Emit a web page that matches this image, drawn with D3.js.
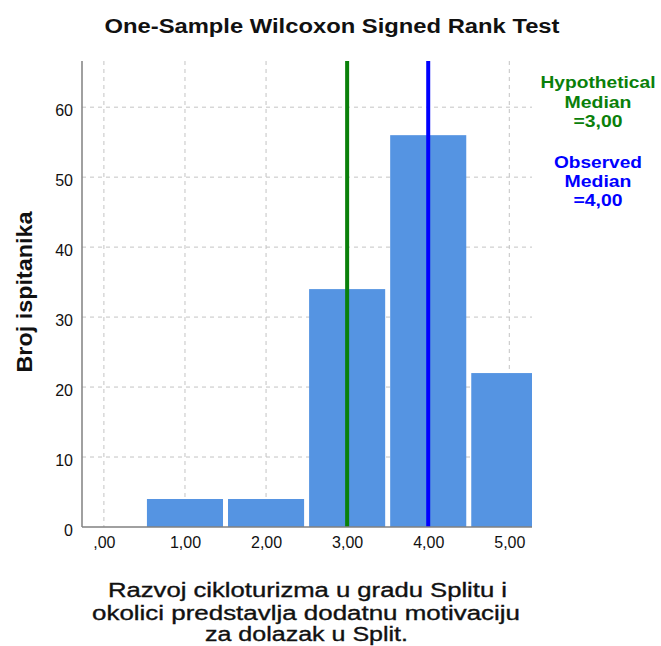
<!DOCTYPE html>
<html><head><meta charset="utf-8">
<script src="https://cdn.jsdelivr.net/npm/d3@7"></script>
<style>
body{margin:0;background:#fff;}
text{font-family:"Liberation Sans",Arial,sans-serif;}
</style></head>
<body>
<svg id="chart" width="661" height="646"></svg>
<script>
const categories = [0, 1, 2, 3, 4, 5];
const tickLabels = [",00", "1,00", "2,00", "3,00", "4,00", "5,00"];
const counts = [0, 4, 4, 34, 56, 22];
const yTicks = [0, 10, 20, 30, 40, 50, 60];
const hypotheticalMedian = 3;
const observedMedian = 4;
const title = "One-Sample Wilcoxon Signed Rank Test";
const yTitle = "Broj ispitanika";
const xTitleLines = ["Razvoj cikloturizma u gradu Splitu i", "okolici predstavlja dodatnu motivaciju", "za dolazak u Split."];
const hypLines = ["Hypothetical", "Median", "=3,00"];
const obsLines = ["Observed", "Median", "=4,00"];

const svg = d3.select("#chart");
const L = 82, R = 532, T = 61, B = 527;
const x = d3.scaleLinear().domain([-0.27, 5.28]).range([L, R]);
const y = d3.scaleLinear().domain([0, 66.6]).range([B, T]);

svg.append("defs").append("clipPath").attr("id", "plotclip")
  .append("rect").attr("x", L).attr("y", T).attr("width", R - L).attr("height", B - T);

// grid
const grid = svg.append("g");
grid.selectAll("line.v").data(categories).join("line")
  .attr("x1", d => x(d)).attr("x2", d => x(d)).attr("y1", T).attr("y2", B)
  .attr("stroke", "#c4c4c4").attr("stroke-width", 1).attr("stroke-dasharray", "4,4");
grid.selectAll("line.h").data(yTicks.filter(d => d > 0)).join("line")
  .attr("x1", L).attr("x2", R).attr("y1", d => y(d)).attr("y2", d => y(d))
  .attr("stroke", "#c4c4c4").attr("stroke-width", 1).attr("stroke-dasharray", "4,4");

// bars
svg.append("g").attr("clip-path", "url(#plotclip)")
  .selectAll("rect").data(categories.map((c, i) => ({c, v: counts[i]})).filter(d => d.v > 0)).join("rect")
  .attr("x", d => x(d.c - 0.5) + 2.5)
  .attr("width", d => x(d.c + 0.5) - x(d.c - 0.5) - 5)
  .attr("y", d => y(d.v))
  .attr("height", d => y(0) - y(d.v))
  .attr("fill", "#5594e2");

// median lines
svg.append("line").attr("x1", x(hypotheticalMedian)).attr("x2", x(hypotheticalMedian))
  .attr("y1", T).attr("y2", B).attr("stroke", "#0a800a").attr("stroke-width", 4);
svg.append("line").attr("x1", x(observedMedian)).attr("x2", x(observedMedian))
  .attr("y1", T).attr("y2", B).attr("stroke", "#0000ff").attr("stroke-width", 4);

// axes
const yAxis = svg.append("g").attr("transform", `translate(${L},0)`)
  .call(d3.axisLeft(y).tickValues(yTicks).tickFormat(d3.format("d")).tickSize(0).tickPadding(9));
yAxis.attr("font-size", 16).attr("font-family", "'Liberation Sans',Arial,sans-serif");
yAxis.select(".domain").remove();
yAxis.selectAll("text").attr("fill", "#111").attr("dy", "0.52em");

const xAxis = svg.append("g").attr("transform", `translate(0,${B})`)
  .call(d3.axisBottom(x).tickValues(categories).tickFormat((d, i) => tickLabels[i]).tickSize(0).tickPadding(10));
xAxis.attr("font-size", 16).attr("font-family", "'Liberation Sans',Arial,sans-serif");
xAxis.select(".domain").remove();
xAxis.selectAll("text").attr("fill", "#111");

svg.append("line").attr("x1", L).attr("x2", L).attr("y1", T).attr("y2", B)
  .attr("stroke", "#808080").attr("stroke-width", 1.5);
svg.append("line").attr("x1", L).attr("x2", R).attr("y1", B).attr("y2", B)
  .attr("stroke", "#808080").attr("stroke-width", 1.5);

// title
svg.append("text").attr("x", 332).attr("y", 33).attr("text-anchor", "middle")
  .attr("font-size", 20).attr("font-weight", "bold").attr("fill", "#111")
  .attr("textLength", 455).attr("lengthAdjust", "spacingAndGlyphs").text(title);

// y title
svg.append("text").attr("transform", "translate(32,292) rotate(-90)").attr("text-anchor", "middle")
  .attr("font-size", 22).attr("font-weight", "bold").attr("fill", "#111")
  .attr("textLength", 161).attr("lengthAdjust", "spacingAndGlyphs").text(yTitle);

// x title
const xtW = [399, 428, 203], xtY = [597, 619.5, 641], xtX = [307.5, 306, 306.5];
xTitleLines.forEach((t, i) => {
  svg.append("text").attr("x", xtX[i]).attr("y", xtY[i]).attr("text-anchor", "middle")
    .attr("font-size", 20).attr("fill", "#111").attr("stroke", "#111").attr("stroke-width", 0.35)
    .attr("textLength", xtW[i]).attr("lengthAdjust", "spacingAndGlyphs").text(t);
});

// legend
const hypW = [115, 67, 49], hypY = [88, 108, 127];
hypLines.forEach((t, i) => {
  svg.append("text").attr("x", 598).attr("y", hypY[i]).attr("text-anchor", "middle")
    .attr("font-size", 17).attr("font-weight", "bold").attr("fill", "#0a800a")
    .attr("textLength", hypW[i]).attr("lengthAdjust", "spacingAndGlyphs").text(t);
});
const obsW = [88, 67, 49], obsY = [168, 187, 206];
obsLines.forEach((t, i) => {
  svg.append("text").attr("x", 598).attr("y", obsY[i]).attr("text-anchor", "middle")
    .attr("font-size", 17).attr("font-weight", "bold").attr("fill", "#0000ff")
    .attr("textLength", obsW[i]).attr("lengthAdjust", "spacingAndGlyphs").text(t);
});
</script>
</body></html>
